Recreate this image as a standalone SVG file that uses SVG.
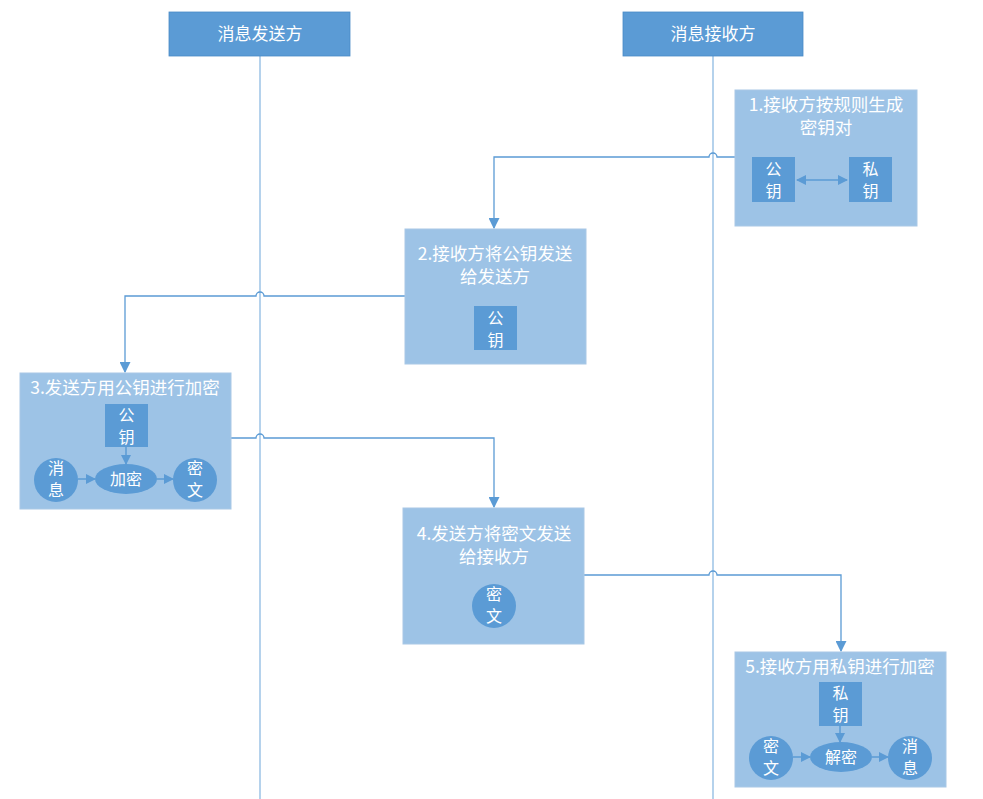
<svg xmlns="http://www.w3.org/2000/svg" width="983" height="799" viewBox="0 0 983 799">
<defs>
<style>
.hdr{fill:#5b9bd5;stroke:#4a8ac6;stroke-width:0.8}
.box{fill:#9dc3e6;stroke:#a9c8e6;stroke-width:1}
.key{fill:#5b9bd5}
.t{font-family:"Noto Sans CJK SC","Microsoft YaHei",sans-serif;fill:#ffffff;text-anchor:middle}
.ht{font-size:17px}
.bt{font-size:17.5px}
.kt{font-size:16px}
.life{stroke:#9dc3e6;stroke-width:1.5;fill:none}
.conn{stroke:#5b9bd5;stroke-width:1.3;fill:none}
.inner{stroke:#5b9bd5;stroke-width:1.5;fill:none}
</style>
<marker id="ah" viewBox="0 0 10 10" refX="9" refY="5" markerWidth="11" markerHeight="11" markerUnits="userSpaceOnUse" orient="auto">
<path d="M0,0 L10,5 L0,10 z" fill="#5b9bd5"/>
</marker>
<marker id="ahs" viewBox="0 0 10 10" refX="9" refY="5" markerWidth="10" markerHeight="10" markerUnits="userSpaceOnUse" orient="auto">
<path d="M0,0 L10,5 L0,10 z" fill="#5b9bd5"/>
</marker>
<marker id="ahstart" viewBox="0 0 10 10" refX="1" refY="5" markerWidth="10" markerHeight="10" markerUnits="userSpaceOnUse" orient="auto">
<path d="M10,0 L0,5 L10,10 z" fill="#5b9bd5"/>
</marker>
</defs>
<rect width="983" height="799" fill="#ffffff"/>

<g id="lifelines">
<line class="life" x1="260" y1="56" x2="260" y2="799"/>
<line class="life" x1="713" y1="56" x2="713" y2="799"/>
</g>

<g id="sender">
<rect class="hdr" x="169" y="12" width="181" height="44"/>
<text class="t ht" x="260" y="40">消息发送方</text>
</g>
<g id="receiver">
<rect class="hdr" x="623" y="12" width="180" height="44"/>
<text class="t ht" x="713" y="40">消息接收方</text>
</g>

<g id="connectors">
<path class="conn" d="M735,157 H717 a4,4 0 0,0 -8,0 H494 V228" marker-end="url(#ah)"/>
<path class="conn" d="M405,296 H264 a4,4 0 0,0 -8,0 H125 V372" marker-end="url(#ah)"/>
<path class="conn" d="M231,438 H256 a4,4 0 0,1 8,0 H494 V507" marker-end="url(#ah)"/>
<path class="conn" d="M584,575 H709 a4,4 0 0,1 8,0 H841 V651" marker-end="url(#ah)"/>
</g>

<g id="step1">
<rect class="box" x="735" y="90" width="182" height="136"/>
<text class="t bt" x="826" y="111">1.接收方按规则生成</text>
<text class="t bt" x="826" y="134">密钥对</text>
<rect class="key" x="752" y="157" width="43" height="45"/>
<text class="t kt" x="773.5" y="175">公</text>
<text class="t kt" x="773.5" y="197">钥</text>
<rect class="key" x="849" y="157" width="43" height="45"/>
<text class="t kt" x="870.5" y="175">私</text>
<text class="t kt" x="870.5" y="197">钥</text>
<line class="inner" x1="797" y1="180" x2="847" y2="180" marker-start="url(#ahstart)" marker-end="url(#ahs)"/>
</g>

<g id="step2">
<rect class="box" x="405" y="229" width="181" height="135"/>
<text class="t bt" x="495" y="260">2.接收方将公钥发送</text>
<text class="t bt" x="495" y="283">给发送方</text>
<rect class="key" x="474" y="306" width="43" height="44"/>
<text class="t kt" x="495.5" y="324">公</text>
<text class="t kt" x="495.5" y="346">钥</text>
</g>

<g id="step3">
<rect class="box" x="20" y="373" width="211" height="136"/>
<text class="t bt" x="125" y="394">3.发送方用公钥进行加密</text>
<rect class="key" x="105" y="404" width="43" height="43"/>
<text class="t kt" x="126.5" y="421">公</text>
<text class="t kt" x="126.5" y="443">钥</text>
<line class="inner" x1="126" y1="447" x2="126" y2="464" marker-end="url(#ahs)"/>
<circle class="key" cx="56" cy="480" r="22"/>
<text class="t kt" x="56" y="474">消</text>
<text class="t kt" x="56" y="496">息</text>
<line class="inner" x1="78" y1="479" x2="95" y2="479" marker-end="url(#ahs)"/>
<ellipse class="key" cx="126" cy="479" rx="31" ry="15"/>
<text class="t kt" x="126" y="485">加密</text>
<line class="inner" x1="157" y1="479" x2="173" y2="479" marker-end="url(#ahs)"/>
<circle class="key" cx="195" cy="480" r="22"/>
<text class="t kt" x="195" y="474">密</text>
<text class="t kt" x="195" y="496">文</text>
</g>

<g id="step4">
<rect class="box" x="403" y="508" width="181" height="136"/>
<text class="t bt" x="494" y="540">4.发送方将密文发送</text>
<text class="t bt" x="494" y="563">给接收方</text>
<circle class="key" cx="494" cy="606" r="22"/>
<text class="t kt" x="494" y="600">密</text>
<text class="t kt" x="494" y="622">文</text>
</g>

<g id="step5">
<rect class="box" x="735" y="652" width="211" height="135"/>
<text class="t bt" x="840" y="673">5.接收方用私钥进行加密</text>
<rect class="key" x="819" y="682" width="43" height="44"/>
<text class="t kt" x="840.5" y="699">私</text>
<text class="t kt" x="840.5" y="721">钥</text>
<line class="inner" x1="840" y1="726" x2="840" y2="742" marker-end="url(#ahs)"/>
<circle class="key" cx="771" cy="758" r="22"/>
<text class="t kt" x="771" y="752">密</text>
<text class="t kt" x="771" y="774">文</text>
<line class="inner" x1="793" y1="757" x2="810" y2="757" marker-end="url(#ahs)"/>
<ellipse class="key" cx="841" cy="757" rx="31" ry="15"/>
<text class="t kt" x="841" y="763">解密</text>
<line class="inner" x1="872" y1="757" x2="888" y2="757" marker-end="url(#ahs)"/>
<circle class="key" cx="910" cy="758" r="22"/>
<text class="t kt" x="910" y="752">消</text>
<text class="t kt" x="910" y="774">息</text>
</g>
</svg>
